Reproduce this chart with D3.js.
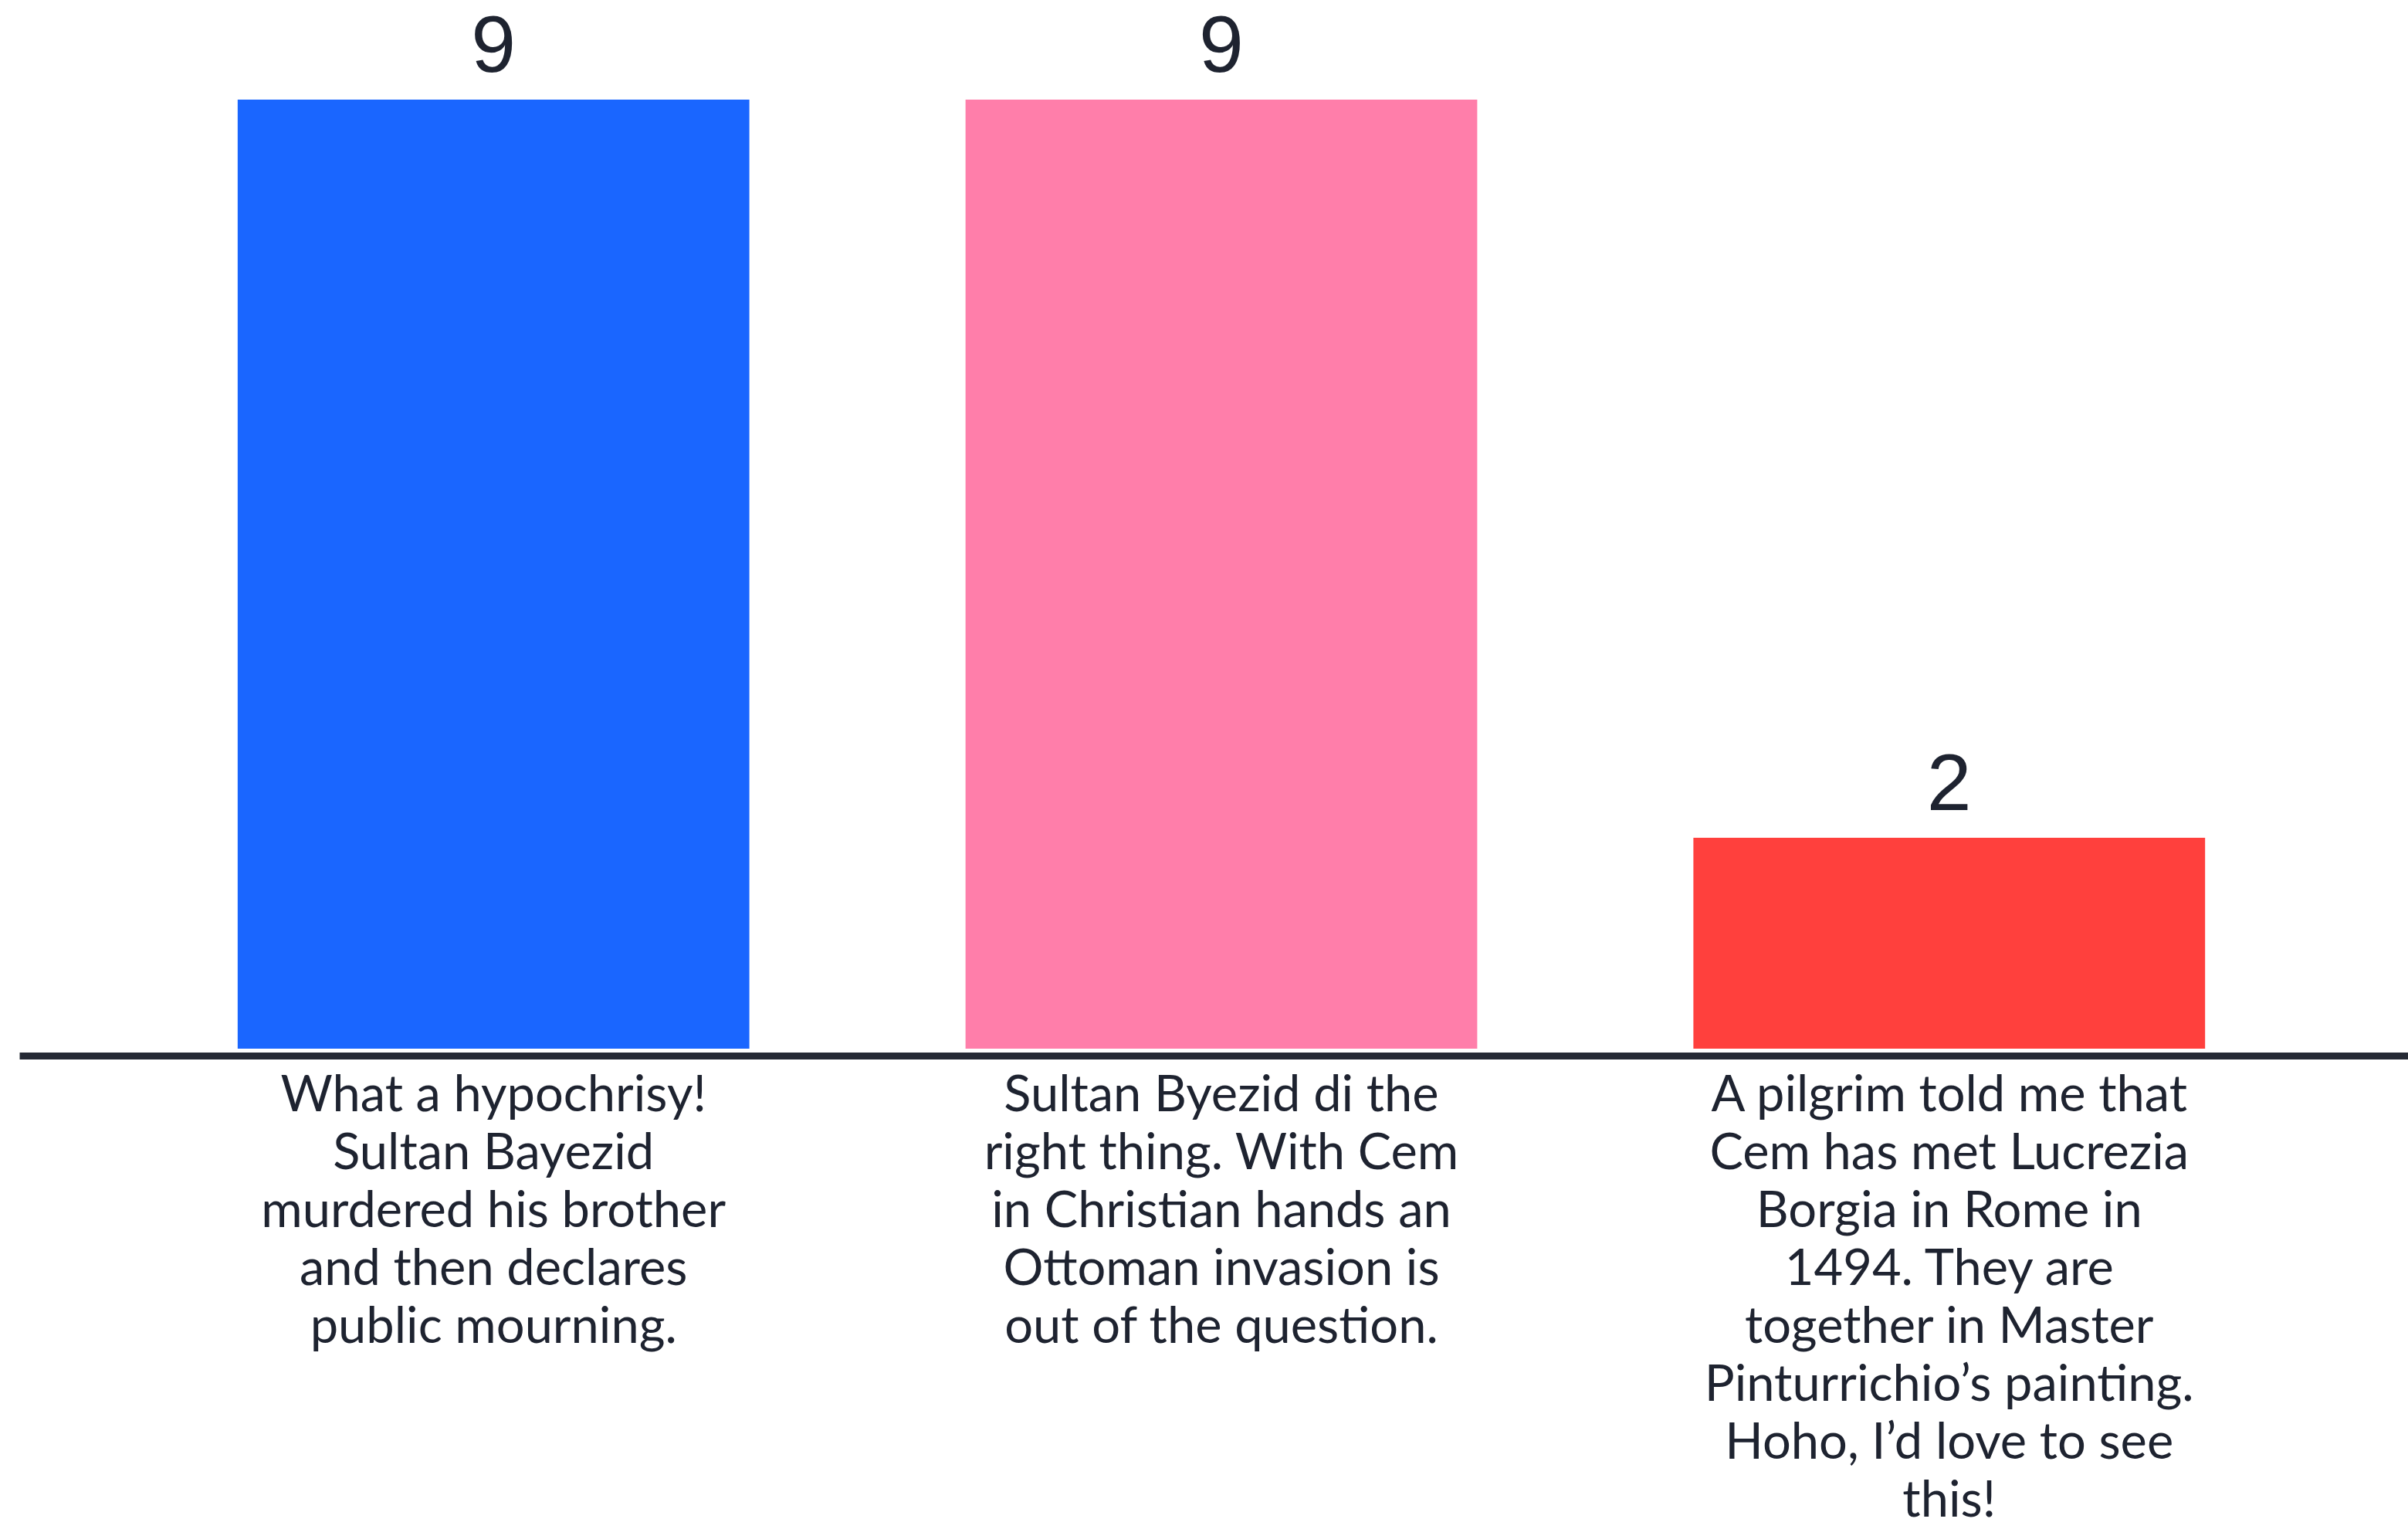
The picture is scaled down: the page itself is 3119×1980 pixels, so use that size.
<!DOCTYPE html>
<html>
<head>
<meta charset="utf-8">
<script src="https://cdn.jsdelivr.net/npm/d3@7"></script>
<style>
  body { margin: 0; background: #fff; }
  svg { display: block; }
</style>
</head>
<body>
<script>
// answers and vote counts
var categories = ["a", "b", "c"];
var votes = [9, 9, 2];
var barColors = ["#1a66ff", "#ff7eaa", "#ff403d"];
var labelLines = [
  ["What a hypochrisy!", "Sultan Bayezid", "murdered his brother", "and then declares", "public mourning."],
  ["Sultan Byezid di the", "right thing. With Cem", "in Christian hands an", "Ottoman invasion is", "out of the question."],
  ["A pilgrim told me that", "Cem has met Lucrezia", "Borgia in Rome in", "1494. They are", "together in Master", "Pinturrichio\u2019s painting.", "Hoho, I\u2019d love to see", "this!"]
];

var width = 3119, height = 1980;
var baseY = 1358, topY = 129;

var svg = d3.select("body").append("svg")
    .attr("width", width)
    .attr("height", height);

var x = d3.scaleBand()
    .domain(categories)
    .range([25, 3139])
    .paddingInner(0.297)
    .paddingOuter(0.3);

var y = d3.scaleLinear()
    .domain([0, 9])
    .range([baseY, topY]);

// bars
svg.selectAll("rect.bar")
    .data(categories)
    .enter().append("rect")
    .attr("class", "bar")
    .attr("x", function(d) { return x(d); })
    .attr("y", function(d, i) { return y(votes[i]); })
    .attr("width", x.bandwidth())
    .attr("height", function(d, i) { return baseY - y(votes[i]); })
    .style("fill", function(d, i) { return barColors[i]; });

// value labels
svg.selectAll("text.value")
    .data(categories)
    .enter().append("text")
    .attr("class", "value")
    .attr("x", function(d) { return x(d) + x.bandwidth() / 2; })
    .attr("y", function(d, i) { return y(votes[i]) - 36; })
    .attr("text-anchor", "middle")
    .style("font-family", "'Liberation Sans', Arial, sans-serif")
    .style("font-size", "104px")
    .style("fill", "#1e2330")
    .text(function(d, i) { return votes[i]; });

// x axis line
svg.append("g")
    .attr("transform", "translate(0," + (baseY + 9) + ")")
    .call(d3.axisBottom(x).tickSize(0).tickFormat(""))
    .call(function(g) {
        g.select(".domain").attr("stroke", "#262a35").attr("stroke-width", 9);
    });

// category labels
var labels = svg.selectAll("text.cat")
    .data(categories)
    .enter().append("text")
    .attr("class", "cat")
    .attr("text-anchor", "middle")
    .style("font-family", "Lato, sans-serif")
    .style("font-size", "65px")
    .style("fill", "#1e2330");

labels.each(function(d, i) {
    var t = d3.select(this);
    labelLines[i].forEach(function(line, j) {
        t.append("tspan")
            .attr("x", x(d) + x.bandwidth() / 2)
            .attr("y", 1439 + j * 75)
            .text(line);
    });
});
</script>
</body>
</html>
